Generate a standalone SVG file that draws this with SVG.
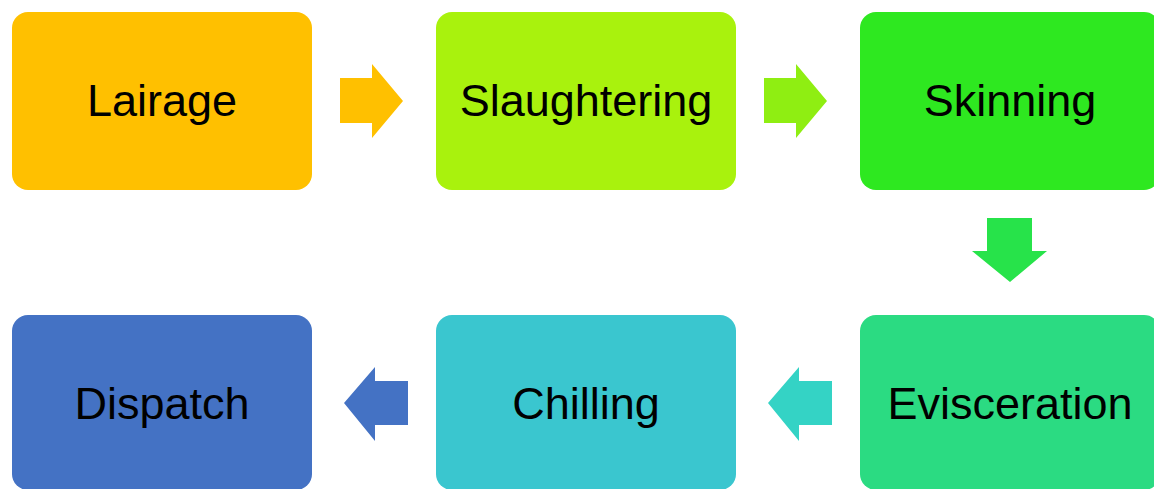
<svg xmlns="http://www.w3.org/2000/svg" width="1154" height="489" viewBox="0 0 1154 489">
<style>
.lbl{font-family:"Liberation Sans",Arial,sans-serif;font-size:45px;fill:#000;text-anchor:middle;dominant-baseline:central}
</style>
<rect width="1154" height="489" fill="#fff"/>
<g id="connectors">
<path d="M340,78 H372 V64 L403,101 L372,138 V123 H340 Z" fill="#FFC000"/>
<path d="M764,78 H796 V64 L827,101 L796,138 V123 H764 Z" fill="#8FEE12"/>
<path d="M987,218 H1032 V251 H1047 L1010,282 L972,251 H987 Z" fill="#27E34A"/>
<path d="M832,381 H799 V367 L768,403 L799,441 V425 H832 Z" fill="#34D3C5"/>
<path d="M408,381 H375 V367 L344,403 L375,441 V425 H408 Z" fill="#4472C4"/>
</g>
<g id="lairage"><rect x="12" y="12" width="300" height="178" rx="16" fill="#FFC000"/><text class="lbl" x="162" y="100">Lairage</text></g>
<g id="slaughtering"><rect x="436" y="12" width="300" height="178" rx="16" fill="#A9F20D"/><text class="lbl" x="586" y="100">Slaughtering</text></g>
<g id="skinning"><rect x="860" y="12" width="300" height="178" rx="16" fill="#2EE820"/><text class="lbl" x="1010" y="100">Skinning</text></g>
<g id="evisceration"><rect x="860" y="315" width="300" height="175" rx="16" fill="#2BDB82"/><text class="lbl" x="1010" y="403">Evisceration</text></g>
<g id="chilling"><rect x="436" y="315" width="300" height="175" rx="16" fill="#3AC6CF"/><text class="lbl" x="586" y="403">Chilling</text></g>
<g id="dispatch"><rect x="12" y="315" width="300" height="175" rx="16" fill="#4472C4"/><text class="lbl" x="162" y="403">Dispatch</text></g>
</svg>
